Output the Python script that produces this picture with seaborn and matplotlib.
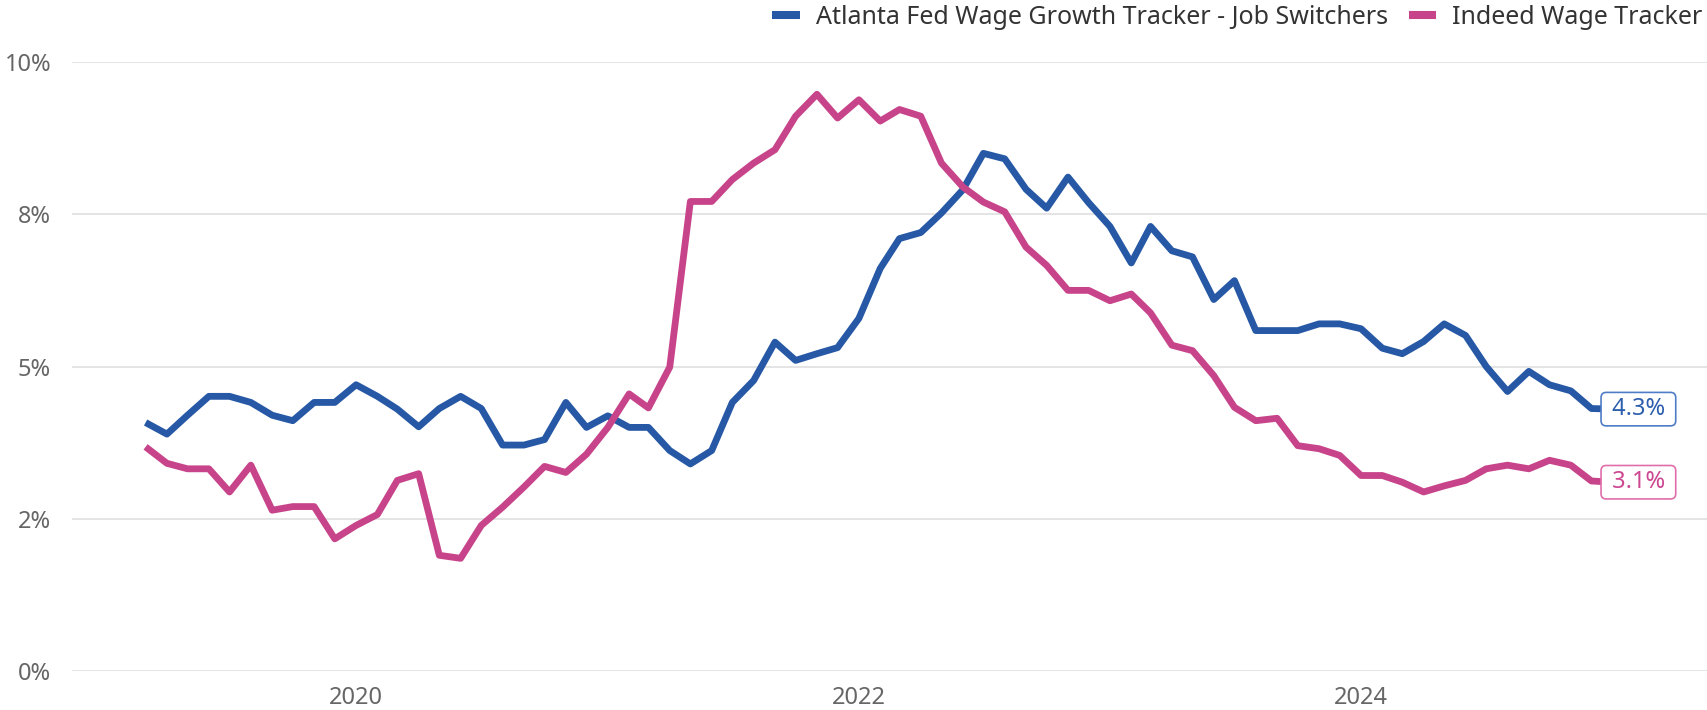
import matplotlib
matplotlib.use("Agg")
import matplotlib.pyplot as plt
import seaborn as sns
import pandas as pd
from matplotlib.lines import Line2D

# ---------------- data ----------------
start_month = "2019-03-01"
series_names = ["Atlanta Fed Wage Growth Tracker - Job Switchers", "Indeed Wage Tracker"]
atlanta = [4.08, 3.89, 4.20, 4.51, 4.51, 4.41, 4.20, 4.11, 4.41, 4.41,
           4.70, 4.51, 4.30, 4.01, 4.31, 4.51, 4.31, 3.71, 3.71, 3.80,
           4.41, 4.00, 4.19, 4.00, 4.00, 3.62, 3.40, 3.62, 4.41, 4.77,
           5.40, 5.10, 5.21, 5.31, 5.79, 6.61, 7.10, 7.20, 7.52, 7.90,
           8.50, 8.41, 7.91, 7.60, 8.11, 7.69, 7.30, 6.70, 7.30, 6.90,
           6.80, 6.10, 6.41, 5.59, 5.59, 5.59, 5.70, 5.70, 5.62, 5.30,
           5.21, 5.41, 5.70, 5.51, 5.00, 4.59, 4.92, 4.70, 4.60, 4.31,
           4.30]
indeed = [3.68, 3.41, 3.32, 3.32, 2.94, 3.38, 2.64, 2.70, 2.70, 2.17,
          2.39, 2.57, 3.13, 3.24, 1.90, 1.85, 2.39, 2.69, 3.02, 3.36,
          3.26, 3.56, 4.00, 4.55, 4.32, 4.99, 7.71, 7.71, 8.07, 8.34,
          8.56, 9.11, 9.47, 9.08, 9.38, 9.03, 9.22, 9.11, 8.34, 7.95,
          7.70, 7.54, 6.96, 6.66, 6.25, 6.25, 6.08, 6.19, 5.88, 5.35,
          5.26, 4.85, 4.33, 4.11, 4.15, 3.70, 3.65, 3.54, 3.21, 3.21,
          3.10, 2.94, 3.04, 3.13, 3.32, 3.38, 3.32, 3.46, 3.38, 3.12,
          3.10]
line_colors = ["#2658a6", "#c8448a"]
label_colors = ["#2d5eae", "#cc4690"]
box_edge_colors = ["#4f7cc6", "#e06eab"]
y_ticks = [0, 2.5, 5, 7.5, 10]
y_tick_labels = ["0%", "2%", "5%", "8%", "10%"]
x_tick_years = ["2020", "2022", "2024"]

# ---------------- frame ----------------
n = len(atlanta)
dates = pd.date_range(start_month, periods=n, freq="MS")
df = pd.DataFrame({
    "date": list(dates) * 2,
    "value": atlanta + indeed,
    "series": [series_names[0]] * n + [series_names[1]] * n,
})

sns.set_theme(style="white")
plt.rcParams["font.family"] = ["Noto Sans", "DejaVu Sans"]

W, H = 1707, 710
fig = plt.figure(figsize=(W / 100, H / 100), dpi=100)
ax = fig.add_axes([72 / W, 1 - 671 / H, 1 - 72 / W, (671 - 62) / H])

sns.lineplot(data=df, x="date", y="value", hue="series", hue_order=series_names,
             palette=line_colors, linewidth=4.9, ax=ax, legend=False,
             solid_joinstyle="round", solid_capstyle="butt")

ax.set_ylim(0, 10)
ax.set_xlim(pd.Timestamp("2018-11-14"), pd.Timestamp("2025-05-18"))
ax.set_yticks(y_ticks)
ax.set_yticklabels(y_tick_labels)
ax.set_xticks(pd.to_datetime([f"{y}-01-01" for y in x_tick_years]))
ax.set_xticklabels(x_tick_years)
ax.set_xlabel("")
ax.set_ylabel("")
ax.yaxis.grid(True, color="#e2e2e2", linewidth=1.3)
ax.xaxis.grid(False)
ax.set_axisbelow(True)
for s in ax.spines.values():
    s.set_visible(False)
ax.tick_params(axis="both", length=0, labelsize=17, labelcolor="#666666")
ax.tick_params(axis="y", pad=15)
ax.tick_params(axis="x", pad=11)

# end-value labels
for vals, c, ec in zip([atlanta, indeed], label_colors, box_edge_colors):
    ax.annotate(f" {vals[-1]:.1f}% ", xy=(dates[-1], vals[-1]), xytext=(-7, 0),
                textcoords="offset pixels", ha="left", va="center",
                color=c, fontsize=17, zorder=10,
                bbox=dict(boxstyle="round,pad=0.2,rounding_size=0.22",
                          fc="white", ec=ec, lw=1.2))

# legend
handles = [Line2D([], [], color=c, lw=5.8, solid_capstyle="butt") for c in line_colors]
fig.legend(handles, series_names, loc="upper right", bbox_to_anchor=(1.0, 1.0),
           ncol=2, frameon=False, fontsize=18.0, handlelength=1.1,
           handletextpad=0.63, columnspacing=0.83, borderaxespad=0.0,
           borderpad=0.2, labelcolor="#333333")

fig.savefig("out.png", dpi=100, facecolor="white")
